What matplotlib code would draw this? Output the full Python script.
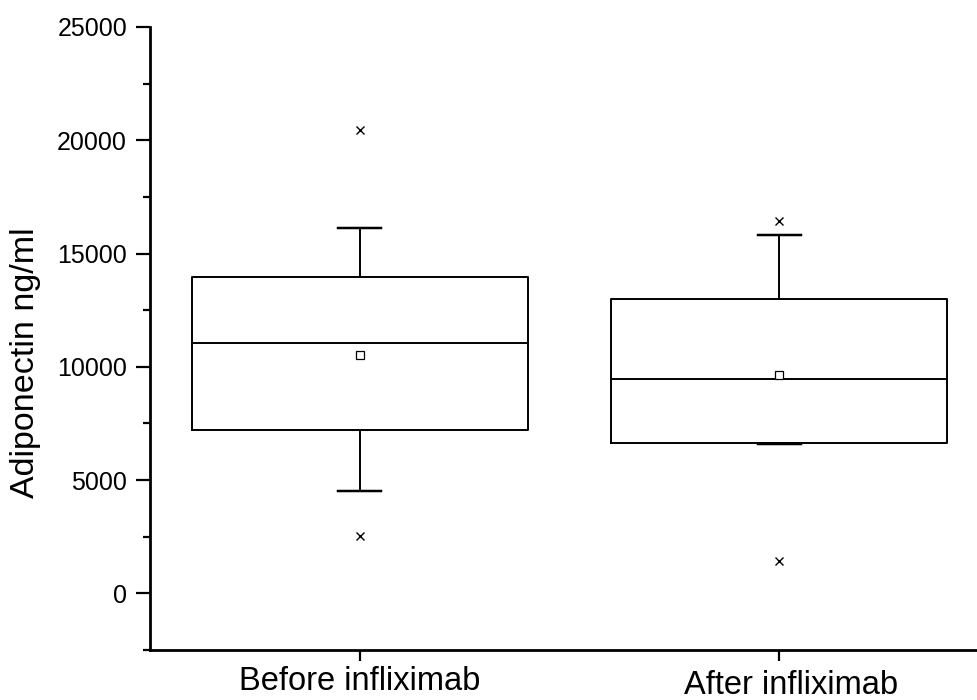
import matplotlib
matplotlib.use("Agg")
import matplotlib.pyplot as plt
import matplotlib.transforms as mtransforms
from matplotlib.ticker import MultipleLocator

plt.rcParams['font.family'] = ['Liberation Sans', 'DejaVu Sans']

categories = ["Before infliximab", "After infliximab"]
q1 = [7200, 6630]
median = [11050, 9450]
q3 = [13970, 12990]
whisker_low = [4500, 6580]
whisker_high = [16120, 15830]
means = [10500, 9640]
outliers = [[20450, 2520], [16430, 1430]]

fig = plt.figure(figsize=(9.78, 7.0), dpi=100)
ax = fig.add_axes([150/978, 50/700, 839/978, 623/700])

stats = []
for i, name in enumerate(categories):
    stats.append(dict(label=name, q1=q1[i], med=median[i], q3=q3[i],
                      whislo=whisker_low[i], whishi=whisker_high[i],
                      mean=means[i], fliers=outliers[i]))

lw = 1.4
ax.bxp(stats, positions=[1, 2], widths=0.80, capwidths=0.103,
       showmeans=True, showfliers=True, patch_artist=False,
       boxprops=dict(color='black', linewidth=lw),
       medianprops=dict(color='black', linewidth=lw),
       whiskerprops=dict(color='black', linewidth=lw),
       capprops=dict(color='black', linewidth=lw + 0.4),
       meanprops=dict(marker='s', markerfacecolor='white', markeredgecolor='black',
                      markersize=5.5, markeredgewidth=0.9),
       flierprops=dict(marker='x', markerfacecolor='black', markeredgecolor='black',
                       markersize=6, markeredgewidth=1.0))

ax.set_xlim(0.5, 2.5)
ax.set_ylim(-2500, 25000)
ax.yaxis.set_minor_locator(MultipleLocator(2500))
ax.set_yticks([0, 5000, 10000, 15000, 20000, 25000])
ax.set_xticks([1, 2])
ax.set_xticklabels(categories, fontsize=23.5)

for s in ['top', 'right']:
    ax.spines[s].set_visible(False)
for s in ['left', 'bottom']:
    ax.spines[s].set_linewidth(2.0)

ax.tick_params(axis='y', which='major', length=10, width=1.6, labelsize=18, pad=6.5)
ax.tick_params(axis='y', which='minor', length=5, width=1.6)
ax.tick_params(axis='x', which='major', length=8, width=1.6, pad=3.5)

# second category label sits slightly lower and to the right in the reference
labs = ax.get_xticklabels()
labs[1].set_transform(labs[1].get_transform() +
                      mtransforms.ScaledTranslation(12/100, -4/100, fig.dpi_scale_trans))

ax.set_ylabel("Adiponectin ng/ml", fontsize=24.5)
ax.yaxis.set_label_coords((41 - 150) / 839, (650 - 362.5) / 623)

fig.savefig("out.png", dpi=100)
